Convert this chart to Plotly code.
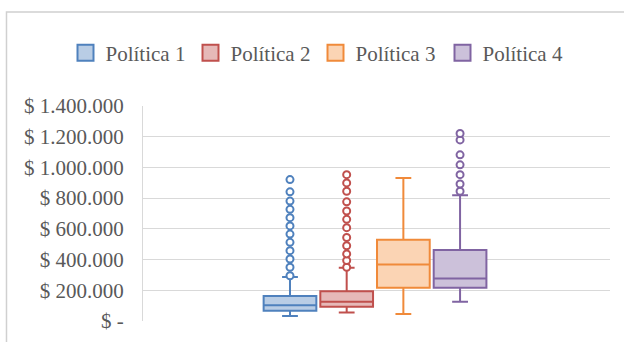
import plotly.graph_objects as go

# Box-and-whisker summary per policy (values in $)
policies = ["Política 1", "Política 2", "Política 3", "Política 4"]
lower_whisker = [32000, 56000, 45000, 125000]
q1_values = [66000, 92000, 217000, 217000]
median_values = [103000, 125000, 368000, 277000]
q3_values = [163000, 194000, 529000, 462000]
upper_whisker = [286000, 346000, 931000, 819000]

outliers = [
    [295000, 350000, 404000, 458000, 512000, 566000, 619000, 673000,
     727000, 781000, 841000, 921000],
    [350000, 394000, 437000, 490000, 544000, 608000, 662000, 716000,
     776000, 845000, 899000, 953000],
    [],
    [845000, 892000, 953000, 1017000, 1082000, 1179000, 1221000],
]

# Axis ticks
tick_values = [0, 200000, 400000, 600000, 800000, 1000000, 1200000, 1400000]
tick_labels = ["$ -", "$ 200.000", "$ 400.000", "$ 600.000", "$ 800.000",
               "$ 1.000.000", "$ 1.200.000", "$ 1.400.000"]

line_colors = ["#4F81BD", "#C0504D", "#F08A3A", "#8064A2"]
fill_colors = ["#B9CDE5", "#E6B9B8", "#FBD4B4", "#CCC1DA"]

FONT = "Liberation Serif"
TEXT_COLOR = "#595959"

fig = go.Figure()
positions = [1, 2, 3, 4]
legend_ids = ["legend", "legend2", "legend3", "legend4"]
legend_left_px = [78, 203, 328, 455]

for i, name in enumerate(policies):
    fig.add_trace(go.Box(
        x=[positions[i]],
        q1=[q1_values[i]], median=[median_values[i]], q3=[q3_values[i]],
        lowerfence=[lower_whisker[i]], upperfence=[upper_whisker[i]],
        boxpoints=False,
        width=0.93,
        whiskerwidth=0.3,
        line=dict(color=line_colors[i], width=2),
        fillcolor=fill_colors[i],
        name=name,
        showlegend=False,
        hoverinfo="skip",
    ))
    if outliers[i]:
        fig.add_trace(go.Scatter(
            x=[positions[i]] * len(outliers[i]),
            y=outliers[i],
            mode="markers",
            marker=dict(symbol="circle", size=7, color="white",
                        line=dict(color=line_colors[i], width=2)),
            showlegend=False,
            hoverinfo="skip",
        ))
    # legend swatch, one small legend per policy so the row never wraps
    fig.add_trace(go.Scatter(
        x=[None], y=[None], mode="markers", name=name,
        legend=legend_ids[i], showlegend=True,
        marker=dict(symbol="square", size=16, color=fill_colors[i],
                    line=dict(color=line_colors[i], width=2)),
    ))

legend_style = dict(
    orientation="h", xref="container", yref="container",
    y=0.845, xanchor="left", yanchor="middle",
    bgcolor="rgba(0,0,0,0)",
    font=dict(family=FONT, size=21, color=TEXT_COLOR),
    itemclick=False, itemdoubleclick=False,
)
legend_layout = {
    lid: dict(legend_style, x=(px - 12.5) / 624)
    for lid, px in zip(legend_ids, legend_left_px)
}

fig.update_layout(
    width=624, height=342,
    margin=dict(l=143, r=14, t=106, b=21, autoexpand=False),
    paper_bgcolor="white", plot_bgcolor="white",
    font=dict(family=FONT, size=21, color=TEXT_COLOR),
    xaxis=dict(range=[-1.593, 6.645], showticklabels=False, showgrid=False,
               zeroline=False, showline=False, fixedrange=True),
    yaxis=dict(range=[0, 1400000], tickvals=tick_values, ticktext=tick_labels,
               showgrid=True, gridcolor="#D9D9D9", gridwidth=1,
               zeroline=False, showline=True, linecolor="#D9D9D9", linewidth=1,
               ticks="", ticklabelstandoff=14, fixedrange=True),
    shapes=[dict(type="rect", xref="paper", yref="paper",
                 x0=-0.2923, x1=1.2, y0=-0.3, y1=1.4372,
                 line=dict(color="#D0D0D0", width=1.5), layer="above")],
    showlegend=True,
    **legend_layout,
)

fig.write_html("out.html")
